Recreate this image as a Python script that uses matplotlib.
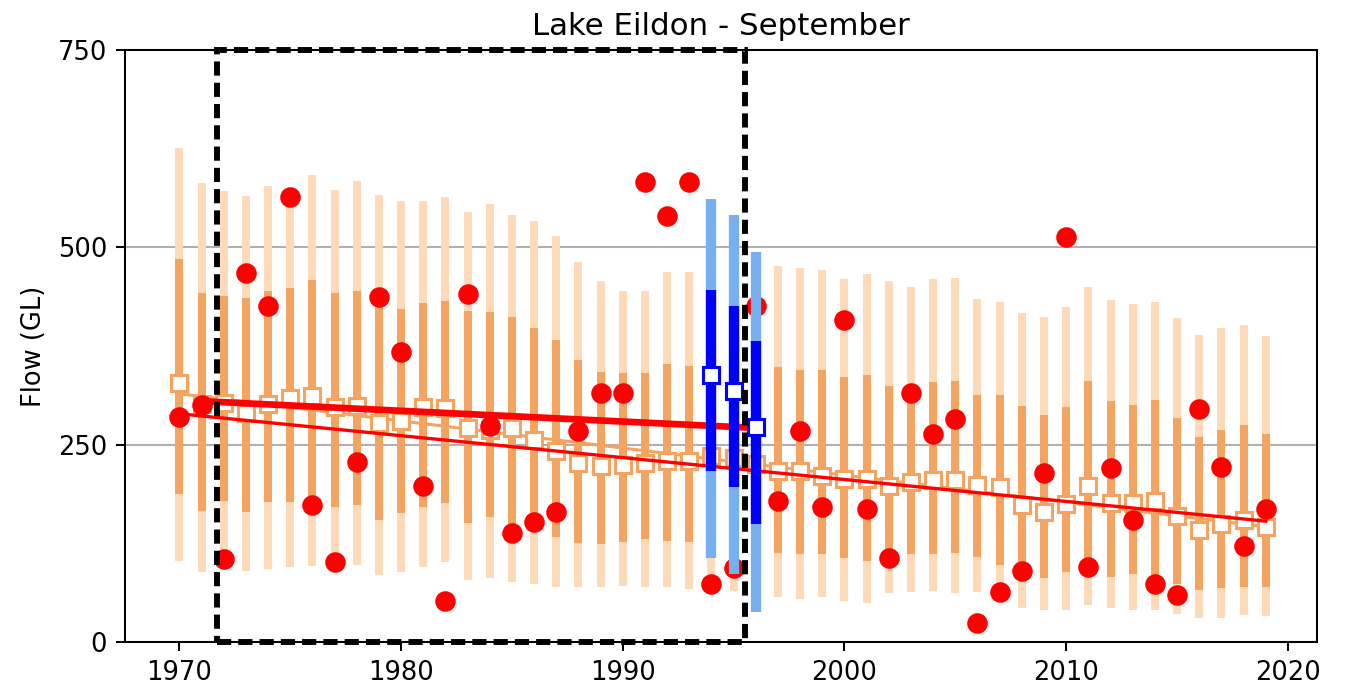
import matplotlib
matplotlib.use('Agg')
import matplotlib.pyplot as plt
from matplotlib.patches import Rectangle
import numpy as np


years = np.arange(1970, 2020)
outer_high = [625, 581, 571, 565, 578, 575, 591, 573, 584, 566,
              559, 558, 564, 544, 555, 541, 533, 514, 481, 457,
              445, 445, 468, 469, 470, 488, 473, 476, 474, 471,
              460, 466, 457, 449, 460, 461, 434, 430, 416, 411,
              424, 449, 433, 428, 430, 410, 389, 397, 402, 388]
inner_high = [485, 442, 438, 435, 445, 448, 459, 442, 444, 445,
              422, 429, 432, 419, 418, 412, 397, 383, 357, 342,
              341, 341, 352, 350, 350, 359, 345, 348, 345, 345,
              336, 338, 324, 318, 329, 330, 313, 313, 299, 288,
              297, 330, 305, 300, 307, 284, 260, 269, 275, 264]
median = [328, 302, 303, 290, 302, 309, 311, 298, 299, 277,
          280, 298, 296, 271, 268, 271, 256, 242, 227, 223,
          224, 227, 229, 229, 235, 233, 225, 216, 217, 210,
          207, 206, 197, 203, 205, 205, 199, 196, 174, 165,
          175, 198, 176, 176, 178, 159, 142, 150, 155, 145]
inner_low = [188, 166, 179, 165, 177, 177, 175, 171, 174, 155,
             163, 171, 176, 151, 158, 140, 147, 133, 125, 124,
             127, 130, 128, 126, 125, 121, 110, 113, 111, 111,
             106, 102, 112, 111, 111, 113, 108, 98, 95, 81,
             88, 90, 82, 86, 82, 74, 66, 68, 70, 69]
outer_low = [103, 89, 95, 90, 93, 95, 96, 92, 97, 85,
             88, 95, 101, 79, 81, 76, 73, 70, 69, 70,
             71, 70, 69, 67, 65, 65, 57, 57, 55, 57,
             52, 49, 62, 63, 64, 62, 63, 55, 43, 40,
             41, 47, 43, 41, 41, 36, 30, 31, 34, 33]
observed = [285, 300, 105, 467, 426, 563, 174, 101, 228, 437,
            367, 197, 52, 441, 274, 138, 152, 164, 267, 315,
            315, 583, 539, 582, 73, 94, 425, 178, 267, 171,
            408, 169, 106, 315, 264, 283, 24, 63, 90, 214,
            513, 95, 220, 155, 74, 60, 295, 221, 122, 168]

drought_years = [1994, 1995, 1996]
drought_outer_high = [561, 541, 494]
drought_inner_high = [446, 426, 381]
drought_median = [338, 318, 272]
drought_inner_low = [216, 196, 150]
drought_outer_low = [106, 86, 38]

long_trend_years = [1970, 2019]
long_trend = [289, 153]
window_trend_years = [1971, 1996]
window_trend = [305, 271]
window = (1971.7, 1995.5)

fig = plt.figure(figsize=(7.29, 3.715), dpi=185)
ax = fig.add_axes([0.0927, 0.0655, 0.8836, 0.8617])

ax.vlines(years, outer_low, outer_high, colors='#ffdab9', linewidth=3.1, zorder=2)
ax.vlines(years, inner_low, inner_high, colors='#f4a460', linewidth=3.1, zorder=2.1)

fit = np.polyfit(years, median, 1)
ax.plot(years, np.polyval(fit, years), color='#f4a460', linewidth=1.2, zorder=2.2)
ax.plot(years, median, 's', markersize=6.3, markerfacecolor='white',
        markeredgecolor='#f4a460', markeredgewidth=1.2, zorder=2.3)

ax.plot(long_trend_years, long_trend, color='red', linewidth=1.3, zorder=2.4)
ax.plot(window_trend_years, window_trend, color='red', linewidth=2.6, zorder=2.4)
ax.plot(years, observed, 'o', color='red', markersize=7, zorder=2.5)

ax.vlines(drought_years, drought_outer_low, drought_outer_high, colors='#77b0f0', linewidth=4, zorder=3)
ax.vlines(drought_years, drought_inner_low, drought_inner_high, colors='blue', linewidth=4, zorder=3.1)
ax.plot(drought_years, drought_median, 's', linestyle='none', markersize=6.3,
        markerfacecolor='white', markeredgecolor='blue', markeredgewidth=1.2, zorder=3.2)

ax.add_patch(Rectangle((window[0], 0), window[1] - window[0], 750, fill=False,
                       edgecolor='black', linewidth=2.3, linestyle=(0, (2.4, 1.2)),
                       clip_on=False, zorder=4))

ax.set_ylim(0, 750)
ax.set_xlim(1967.55, 2021.3)
ax.set_yticks([0, 250, 500, 750])
ax.set_xticks(range(1970, 2021, 10))
ax.yaxis.grid(True, color='#b0b0b0')
ax.set_axisbelow(True)
ax.set_ylabel('Flow (GL)')
ax.set_title('Lake Eildon - September')

fig.savefig('out.png', dpi=185)
